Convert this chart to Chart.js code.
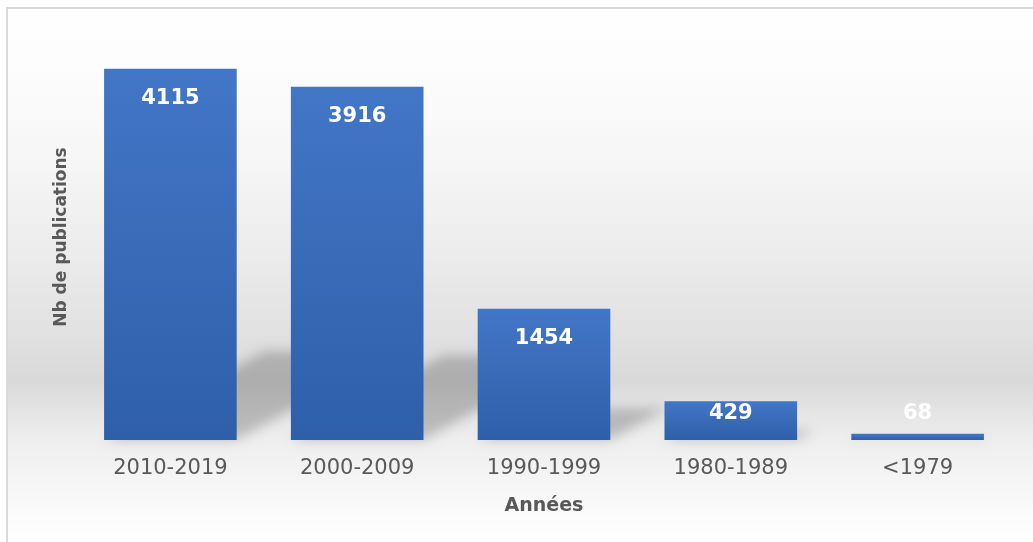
<!DOCTYPE html>
<html>
<head>
<meta charset="utf-8">
<script src="https://cdn.jsdelivr.net/npm/chart.js"></script>
<style>
    html, body { margin: 0; padding: 0; background: #ffffff; }
    #wrap { width: 1033px; height: 542px; }
</style>
</head>
<body>
<div id="wrap"><canvas id="myChart" width="1033" height="542"></canvas></div>
<script>
const categories = ['2010-2019', '2000-2009', '1990-1999', '1980-1989', '<1979'];
const publications = [4115, 3916, 1454, 429, 68];
const yMax = 4500;

document.addEventListener('DOMContentLoaded', function () {
    // Frame + soft grey background like the office chart style
    const backgroundPlugin = {
        id: 'background',
        beforeDraw(chart) {
            const ctx = chart.ctx;
            const w = chart.width, h = chart.height;
            ctx.save();
            ctx.fillStyle = '#ffffff';
            ctx.fillRect(0, 0, w, h);
            const g = ctx.createLinearGradient(0, 0, 0, h);
            g.addColorStop(0, '#ffffff');
            g.addColorStop(60 / 542, '#fdfdfd');
            g.addColorStop(160 / 542, '#f6f6f6');
            g.addColorStop(260 / 542, '#ebebeb');
            g.addColorStop(340 / 542, '#e0e0e0');
            g.addColorStop(380 / 542, '#d9d9d9');
            g.addColorStop(440 / 542, '#eeeeee');
            g.addColorStop(510 / 542, '#fafafa');
            g.addColorStop(1, '#ffffff');
            ctx.fillStyle = g;
            ctx.fillRect(8, 9, w - 8, h - 9);
            ctx.fillStyle = '#d9d9d9';
            ctx.fillRect(6, 7, w - 6, 2);
            ctx.fillRect(6, 7, 2, h - 7);
            ctx.restore();
        }
    };

    // Perspective shadows lying behind each bar
    const shadowPlugin = {
        id: 'barShadows',
        beforeDatasetsDraw(chart) {
            const ctx = chart.ctx;
            const meta = chart.getDatasetMeta(0);
            ctx.save();
            ctx.filter = 'blur(6px)';
            ctx.fillStyle = 'rgba(0, 0, 0, 0.2)';
            meta.data.forEach(bar => {
                const x0 = bar.x - bar.width / 2;
                const x1 = bar.x + bar.width / 2;
                const hs = (bar.base - bar.y) * 0.24;
                const dx = hs * 1.8;
                ctx.beginPath();
                ctx.moveTo(x0, bar.base);
                ctx.lineTo(x1, bar.base);
                ctx.lineTo(x1 + dx, bar.base - hs);
                ctx.lineTo(x0 + dx, bar.base - hs);
                ctx.closePath();
                ctx.fill();
            });
            ctx.restore();
        }
    };

    // White value labels near the top of each bar
    const valueLabels = {
        id: 'valueLabels',
        afterDatasetsDraw(chart) {
            const ctx = chart.ctx;
            const meta = chart.getDatasetMeta(0);
            ctx.save();
            ctx.font = 'bold 21px "DejaVu Sans"';
            ctx.textAlign = 'center';
            ctx.textBaseline = 'middle';
            ctx.fillStyle = '#ffffff';
            meta.data.forEach((bar, i) => {
                const y = Math.min(bar.y + 30, bar.base - 26);
                ctx.fillText(String(publications[i]), bar.x, y);
            });
            ctx.restore();
        }
    };

    function barGradient(context) {
        const chart = context.chart;
        const y = chart.scales.y;
        if (!y || !chart.chartArea) return '#3a6bb8';
        const top = y.getPixelForValue(context.raw);
        const base = y.getPixelForValue(0);
        const g = chart.ctx.createLinearGradient(0, top, 0, base);
        g.addColorStop(0, '#4276c7');
        g.addColorStop(1, '#2f5fa9');
        return g;
    }

    const cty = document.getElementById('myChart').getContext('2d');
    new Chart(cty, {
        type: 'bar',
        data: {
            labels: categories,
            datasets: [{
                label: 'Nb de publications',
                data: publications,
                backgroundColor: barGradient,
                borderWidth: 0,
                categoryPercentage: 1,
                barPercentage: 0.71
            }]
        },
        options: {
            responsive: false,
            animation: false,
            layout: {
                padding: { left: 46.6, right: 22, top: 34, bottom: 21 }
            },
            plugins: {
                legend: { display: false },
                tooltip: { enabled: false }
            },
            scales: {
                y: {
                    min: 0,
                    max: yMax,
                    grid: { display: false, drawTicks: false },
                    border: { display: false },
                    ticks: { display: false },
                    title: {
                        display: true,
                        text: 'Nb de publications',
                        color: '#595959',
                        font: { family: 'DejaVu Sans', size: 17, weight: 'bold' },
                        padding: { top: 5, bottom: 5 }
                    }
                },
                x: {
                    grid: { display: false, drawTicks: false },
                    border: { display: false },
                    ticks: {
                        color: '#595959',
                        padding: 16,
                        font: { family: 'DejaVu Sans', size: 21 }
                    },
                    title: {
                        display: true,
                        text: 'Années',
                        color: '#595959',
                        font: { family: 'DejaVu Sans', size: 19, weight: 'bold' },
                        padding: { top: -3, bottom: 4 }
                    }
                }
            }
        },
        plugins: [backgroundPlugin, shadowPlugin, valueLabels]
    });
});
</script>
</body>
</html>
